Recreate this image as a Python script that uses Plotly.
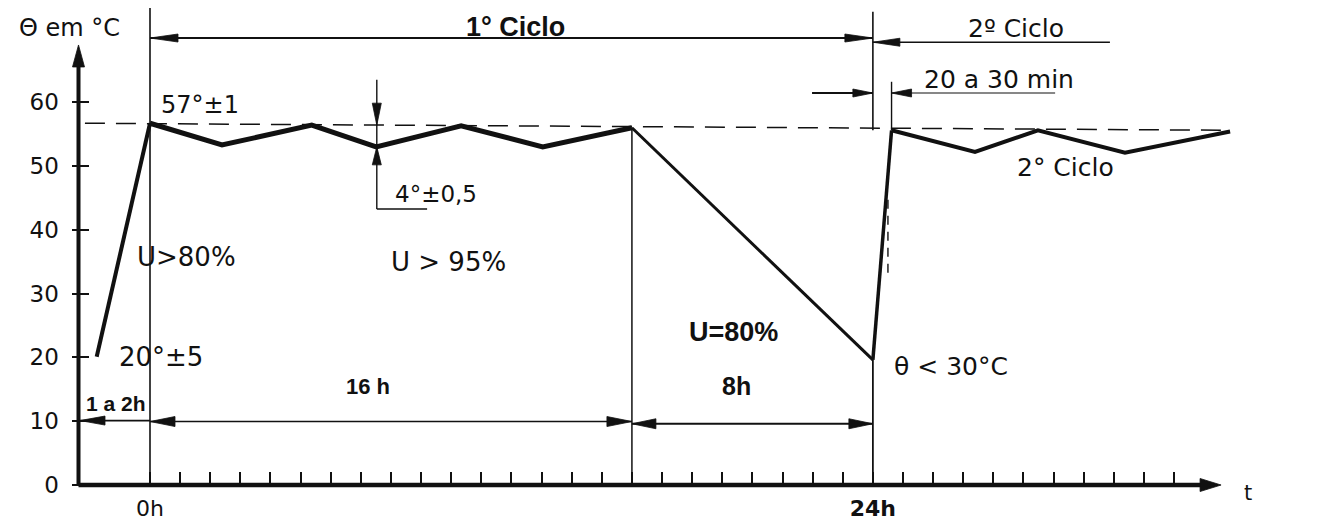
import plotly.graph_objects as go

# ---------------- data ----------------
t_curve = [-1.77, 0.0, 2.39, 5.37, 7.51, 10.33, 13.04, 16.0, 24.0, 24.62, 27.39, 29.48, 32.37, 35.86]
temp_curve = [20.1, 56.7, 53.3, 56.4, 53.0, 56.3, 53.0, 56.0, 19.6, 55.6, 52.2, 55.6, 52.1, 55.4]

ref_t = [-2.16, 35.8]          # dashed 57 degC reference line
ref_temp = [56.7, 55.6]

y_ticks = [0, 10, 20, 30, 40, 50, 60]
y_ticklabels = ["0", "10", "20", "30", "40", "50", "60"]
x_ticks = list(range(0, 35))
x_ticklabels = {0: "0h", 24: "<b>24h</b>"}

T0, T16, T24 = 0.0, 16.0, 24.0
t_axis_start = -2.374
t_axis_end = 35.56
temp_axis_top = 68.97

# ---------------- geometry (pixel scale of the axes) ----------------
OFF = 8                       # page body margin
W, H = 1342 - OFF, 524 - OFF
PX_H = 30.12                  # pixels per hour
PX_D = 6.38                   # pixels per degree
X_ORIG = 150 - OFF            # pixel of t = 0
Y_ORIG = 485 - OFF            # pixel of temp = 0
X0, X1 = -X_ORIG / PX_H, (W - X_ORIG) / PX_H
Y0, Y1 = -(H - Y_ORIG) / PX_D, Y_ORIG / PX_D

INK = "#111111"
fig = go.Figure()


def seg(xs, ys, width=1.8, dash=None):
    fig.add_trace(go.Scatter(x=xs, y=ys, mode="lines", hoverinfo="skip",
                             line=dict(color=INK, width=width, dash=dash)))


def head(tx, ty, direction, length=24, half=4.5):
    if direction in ("left", "right"):
        dx = length / PX_H * (1 if direction == "left" else -1)
        dy = half / PX_D
        xs = [tx, tx + dx, tx + dx, tx]
        ys = [ty, ty + dy, ty - dy, ty]
    else:
        dy = length / PX_D * (1 if direction == "down" else -1)
        dx = half / PX_H
        xs = [tx, tx - dx, tx + dx, tx]
        ys = [ty, ty + dy, ty + dy, ty]
    fig.add_trace(go.Scatter(x=xs, y=ys, mode="lines", fill="toself",
                             fillcolor=INK, hoverinfo="skip",
                             line=dict(color=INK, width=0.8)))


# ---------------- axes drawn as arrows ----------------
seg([t_axis_start, t_axis_start], [0, temp_axis_top - 2], width=4)
head(t_axis_start, temp_axis_top, "up", length=22, half=6)
seg([t_axis_start, t_axis_end - 0.4], [0, 0], width=4.5)
head(t_axis_end, 0, "right", length=21, half=6.5)

# ---------------- dashed reference line ----------------
seg(ref_t, ref_temp, width=1.5, dash="20px,11px")

# ---------------- extension lines ----------------
seg([T0, T0], [Y1, 0], width=1.6)
seg([T16, T16], [temp_curve[7], 0], width=1.5)
seg([T24, T24], [Y1 - 0.6, temp_curve[9]], width=1.6)
seg([T24, T24], [temp_curve[8], 0], width=1.8)
seg([t_curve[9], t_curve[9]], [63.2, temp_curve[9]], width=1.4)
seg([24.5, 24.5], [44.7, 32.9], width=1.4, dash="9px,7px")

# ---------------- temperature curve ----------------
seg(t_curve[0:2], temp_curve[0:2], width=4)
seg(t_curve[1:8], temp_curve[1:8], width=5)
seg(t_curve[7:9], temp_curve[7:9], width=3)
seg(t_curve[8:10], temp_curve[8:10], width=3.5)
seg(t_curve[9:], temp_curve[9:], width=4)

# ---------------- dimension lines ----------------
# 1o Ciclo
seg([T0, T24], [70.06, 70.06], width=1.8)
head(T0, 70.06, "left", 28, 4)
head(T24, 70.06, "right", 28, 4)
# 2o Ciclo
seg([T24, 31.87], [69.4, 69.4], width=1.6)
head(T24, 69.4, "left", 27, 4)
# 20 a 30 min
seg([21.98, T24], [61.44, 61.44], width=1.8)
head(T24, 61.44, "right", 20, 4)
seg([t_curve[9], 30.05], [61.44, 61.44], width=1.2)
head(t_curve[9], 61.44, "left", 20, 4)
# 4o +- 0,5
seg([7.53, 7.53], [63.5, 43.26], width=1.4)
seg([7.53, 9.2], [43.26, 43.26], width=1.4)
head(7.53, ref_temp[0] - 0.3, "down", 22, 4.5)
head(7.53, temp_curve[4], "up", 18, 4.5)
# 1 a 2h
seg([t_axis_start, T0], [10.1, 10.1], width=1.8)
head(t_axis_start + 0.05, 10.1, "left", 25, 4.5)
# 16 h
seg([T0, T16], [9.95, 9.95], width=1.6)
head(T0, 9.95, "left", 25, 5)
head(T16, 9.95, "right", 25, 5)
# 8h
seg([T16, T24], [9.6, 9.6], width=2)
head(T16, 9.6, "left", 24, 5)
head(T24, 9.6, "right", 24, 5)

# invisible trace so the second (tick) y-axis is drawn
fig.add_trace(go.Scatter(x=[X0, X0], y=[Y0, Y1], yaxis="y2", mode="markers",
                         marker=dict(opacity=0), hoverinfo="skip"))

# ---------------- texts ----------------
REG = "DejaVu Sans"
BLD = "Liberation Sans"
texts = [
    (-2.66, 71.6, "Θ em °C", 24, REG),
    (12.12, 71.8, "<b>1° Ciclo</b>", 27, BLD),
    (28.75, 71.6, "2º Ciclo", 25, REG),
    (28.19, 63.5, "20 a 30 min", 25, REG),
    (1.66, 59.6, "57°±1", 24, REG),
    (9.5, 45.6, "4°±0,5", 23, REG),
    (1.2, 35.7, "U>80%", 26, REG),
    (9.9, 34.95, "U > 95%", 26, REG),
    (0.37, 20.06, "20°±5", 26, REG),
    (19.36, 24.0, "<b>U=80%</b>", 27, BLD),
    (26.59, 18.65, "θ < 30°C", 25, REG),
    (30.38, 49.84, "2° Ciclo", 25, REG),
    (-1.13, 12.85, "<b>1 a 2h</b>", 21, BLD),
    (7.24, 15.5, "<b>16 h</b>", 22, BLD),
    (19.46, 15.5, "<b>8h</b>", 25, BLD),
    (36.45, -1.25, "t", 21, REG),
]
for tx, ty, s, size, fam in texts:
    fig.add_annotation(x=tx, y=ty, text=s, showarrow=False, xanchor="center",
                       yanchor="middle", font=dict(family=fam, size=size, color=INK))

fig.update_layout(
    width=W, height=H, margin=dict(l=0, r=0, t=0, b=0),
    paper_bgcolor="white", plot_bgcolor="white", showlegend=False,
    xaxis=dict(range=[X0, X1], anchor="free", position=(H - Y_ORIG) / H,
               showgrid=False, zeroline=False, showline=False,
               ticks="inside", ticklen=13, tickwidth=2, tickcolor=INK,
               tickmode="array", tickvals=x_ticks,
               ticktext=[x_ticklabels.get(v, "") for v in x_ticks],
               tickfont=dict(family=REG, size=22, color=INK),
               ticklabelstandoff=8),
    yaxis=dict(range=[Y0, Y1], anchor="free", position=(78.5 - OFF) / W,
               showgrid=False, zeroline=False, showline=False,
               ticks="outside", ticklen=7, tickwidth=2, tickcolor=INK,
               tickmode="array", tickvals=y_ticks, ticktext=y_ticklabels,
               tickfont=dict(family=REG, size=23, color=INK),
               ticklabelstandoff=8),
    yaxis2=dict(range=[Y0, Y1], anchor="free", position=(78.5 - OFF) / W,
                overlaying="y", side="left",
                showgrid=False, zeroline=False, showline=False,
                ticks="inside", ticklen=9, tickwidth=2, tickcolor=INK,
                tickmode="array", tickvals=y_ticks[1:], showticklabels=False),
)

fig.write_html("out.html")
